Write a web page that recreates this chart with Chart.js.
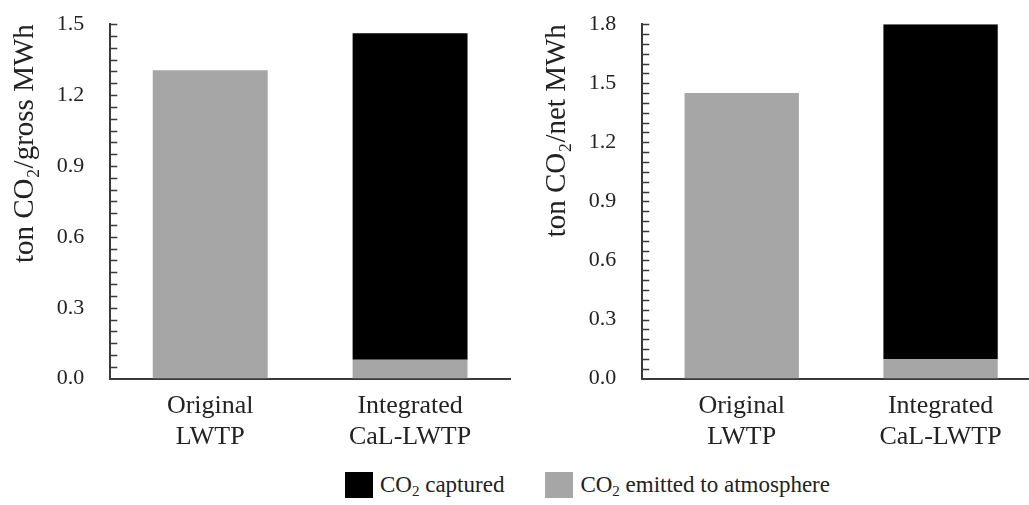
<!DOCTYPE html>
<html>
<head>
<meta charset="utf-8">
<script src="https://cdn.jsdelivr.net/npm/chart.js@4.4.0/dist/chart.umd.min.js"></script>
<style>
  html, body { margin: 0; padding: 0; background: #fff; overflow: hidden; width: 1029px; height: 505px; }
  .box { position: absolute; top: -15px; height: 486px; }
  #legend { position: absolute; top: 472px; left: 345px; font-family: "Liberation Serif", serif; font-size: 23px; color: #222; white-space: nowrap; }
  #legend span.item { display: inline-flex; align-items: center; margin-right: 41px; }
  #legend span.sw { display: inline-block; width: 28px; height: 26px; margin-right: 7px; }
  #legend sub { font-size: 15px; vertical-align: -4px; line-height: 0; }
</style>
</head>
<body>
<div class="box" style="left:0; width:520px;"><canvas id="grossChart"></canvas></div>
<div class="box" style="left:520px; width:530px;"><canvas id="netChart"></canvas></div>
<div id="legend"></div>
<script>
Chart.defaults.font.family = '"Liberation Serif", serif';
Chart.defaults.color = '#222';

// Data
const categories = [['Original', 'LWTP'], ['Integrated', 'CaL-LWTP']];
const seriesNames = ['CO₂ emitted to atmosphere', 'CO₂ captured'];
const seriesColors = ['#a6a6a6', '#000000'];
const grossEmitted = [1.305, 0.08];
const grossCaptured = [0, 1.382];
const netEmitted = [1.45, 0.10];
const netCaptured = [0, 1.70];
const grossAxisMax = 1.5;
const netAxisMax = 1.8;
const majorStep = 0.3;
const minorStep = 0.05;

// small inward ticks on the y axis
const minorTicks = {
  id: 'minorTicks',
  afterDatasetsDraw(chart) {
    const y = chart.scales.y;
    const ctx = chart.ctx;
    const n = Math.round(y.max / minorStep);
    ctx.save();
    ctx.strokeStyle = '#3a3a3a';
    ctx.lineWidth = 1.3;
    ctx.beginPath();
    for (let i = 1; i <= n; i++) {
      const py = Math.round(y.getPixelForValue(i * minorStep)) + 0.5;
      ctx.moveTo(y.right, py);
      ctx.lineTo(y.right + 7, py);
    }
    ctx.stroke();
    ctx.restore();
  }
};

function makeChart(id, emitted, captured, axisMax, title, padLeft) {
  const ctx = document.getElementById(id).getContext('2d');
  return new Chart(ctx, {
    type: 'bar',
    data: {
      labels: categories,
      datasets: [
        { label: seriesNames[0], data: emitted, backgroundColor: seriesColors[0], borderWidth: 0 },
        { label: seriesNames[1], data: captured, backgroundColor: seriesColors[1], borderWidth: 0 }
      ]
    },
    options: {
      responsive: true,
      maintainAspectRatio: false,
      animation: false,
      layout: { padding: { top: 12, left: padLeft, right: 10, bottom: 6 } },
      datasets: { bar: { categoryPercentage: 1, barPercentage: 0.575 } },
      plugins: { legend: { display: false }, tooltip: { enabled: false } },
      scales: {
        x: {
          stacked: true,
          grid: { display: false, drawTicks: false },
          border: { display: true, color: '#3a3a3a', width: 2 },
          ticks: { padding: 12, font: { size: 26, lineHeight: 1.2 }, color: '#222' }
        },
        y: {
          stacked: true,
          min: 0,
          max: axisMax,
          grid: { display: false, drawTicks: false },
          border: { display: true, color: '#3a3a3a', width: 2 },
          ticks: {
            stepSize: majorStep,
            padding: 26,
            font: { size: 22 },
            color: '#222',
            callback: v => Number(v).toFixed(1)
          },
          title: {
            display: true,
            text: title,
            align: 'end',
            font: { size: 29 },
            color: '#222',
            padding: { top: 0, bottom: -12 }
          }
        }
      }
    },
    plugins: [minorTicks]
  });
}

const grossChart = makeChart('grossChart', grossEmitted, grossCaptured, grossAxisMax, 'ton CO₂/gross MWh', 8);
const netChart = makeChart('netChart', netEmitted, netCaptured, netAxisMax, 'ton CO₂/net MWh', 20);

// shared legend, captured first
const legendEl = document.getElementById('legend');
[1, 0].forEach(i => {
  const item = document.createElement('span');
  item.className = 'item';
  const sw = document.createElement('span');
  sw.className = 'sw';
  sw.style.background = grossChart.data.datasets[i].backgroundColor;
  const txt = document.createElement('span');
  txt.innerHTML = grossChart.data.datasets[i].label.replace('CO₂', 'CO<sub>2</sub>');
  item.appendChild(sw);
  item.appendChild(txt);
  legendEl.appendChild(item);
});
</script>
</body>
</html>
